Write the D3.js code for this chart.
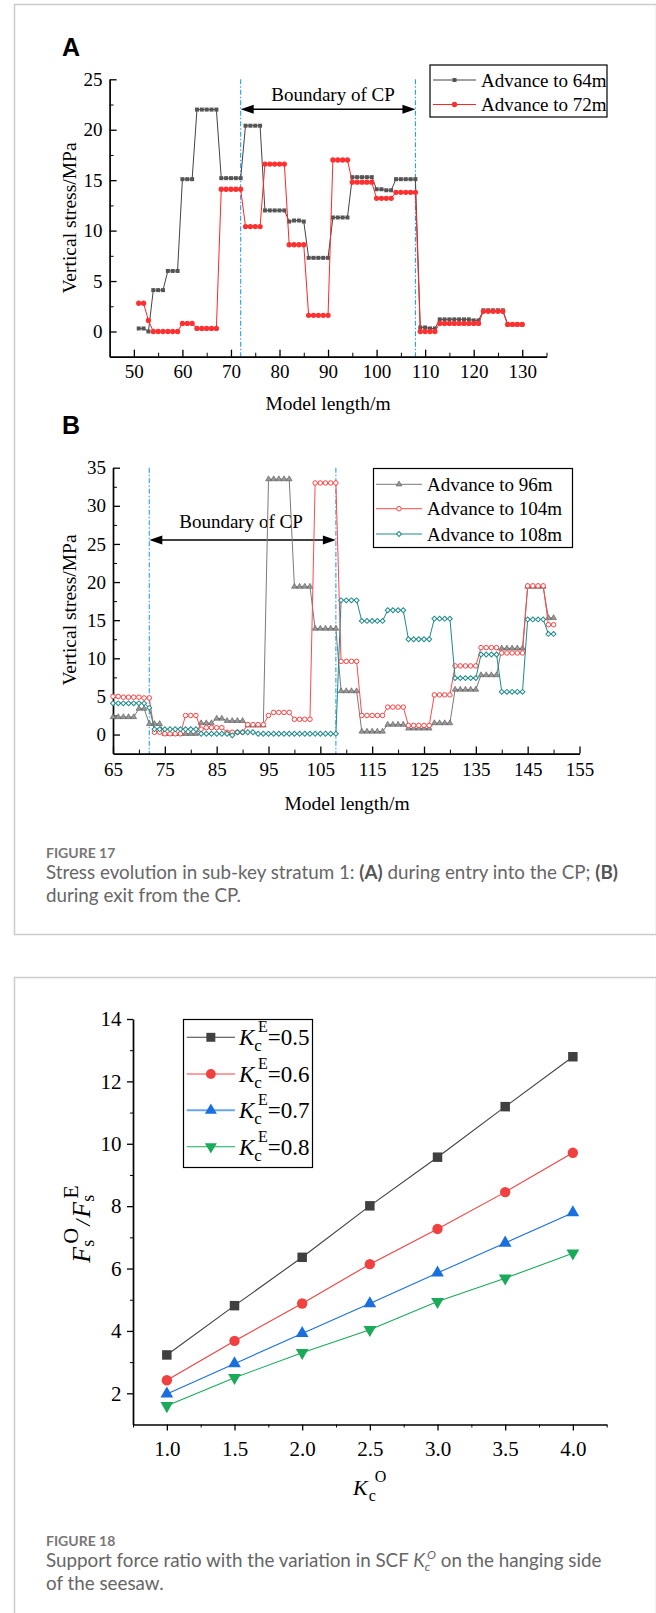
<!DOCTYPE html>
<html>
<head>
<meta charset="utf-8">
<script src="https://cdn.jsdelivr.net/npm/d3@7"></script>
<style>
  body { margin: 0; background: #fff; }
  svg { display: block; }
</style>
</head>
<body>
<svg id="fig" width="656" height="1613"></svg>
<script>
// ---- data: figure 17A (model length 51..130 m) ----
const lengthA = d3.range(51, 131);
const stress64 = [0.3, 0.3, 0.0, 4.1, 4.1, 4.1, 6.0, 6.0, 6.0, 15.1, 15.1, 15.1,
  22.0, 22.0, 22.0, 22.0, 22.0, 15.2, 15.2, 15.2, 15.2, 15.2, 20.4, 20.4, 20.4, 20.4,
  12.0, 12.0, 12.0, 12.0, 12.0, 10.9, 11.0, 11.0, 10.9, 7.3, 7.3, 7.3, 7.3, 7.3,
  11.3, 11.3, 11.3, 11.3, 15.3, 15.3, 15.3, 15.3, 15.3, 14.1, 14.1, 14.0, 14.0,
  15.1, 15.1, 15.1, 15.1, 15.1, 0.4, 0.4, 0.3, 0.3, 1.2, 1.2, 1.2, 1.2, 1.2, 1.2, 1.2,
  1.1, 1.1, 2.1, 2.1, 2.1, 2.1, 2.1, 0.7, 0.7, 0.7, 0.7];
const stress72 = [2.8, 2.8, 1.1, 0.0, 0.0, 0.0, 0.0, 0.0, 0.0, 0.8, 0.8, 0.8,
  0.3, 0.3, 0.3, 0.3, 0.3, 14.1, 14.1, 14.1, 14.1, 14.1, 10.4, 10.4, 10.4, 10.4,
  16.6, 16.6, 16.6, 16.6, 16.6, 8.6, 8.6, 8.6, 8.6, 1.6, 1.6, 1.6, 1.6, 1.6,
  17.0, 17.0, 17.0, 17.0, 14.8, 14.8, 14.8, 14.8, 14.8, 13.2, 13.2, 13.2, 13.2,
  13.8, 13.8, 13.8, 13.8, 13.8, 0.0, 0.0, 0.0, 0.0, 0.8, 0.8, 0.8, 0.8, 0.8, 0.8, 0.8,
  0.8, 0.8, 2.0, 2.0, 2.0, 2.0, 2.0, 0.7, 0.7, 0.7, 0.7];

// ---- data: figure 17B (model length 65..150 m) ----
const lengthB = d3.range(65, 151);
const stress96 = [2.3, 2.3, 2.3, 2.3, 2.3, 3.4, 3.4, 1.4, 1.4, 1.4,
  0.1, 0.1, 0.1, 0.1, 0.1, 0.1, 0.1, 1.5, 1.5, 1.5, 2.1, 2.1, 1.8, 1.8, 1.8, 1.8,
  1.2, 1.2, 1.2, 1.2, 33.5, 33.5, 33.5, 33.5, 33.5, 19.4, 19.4, 19.4, 19.4,
  13.9, 13.9, 13.9, 13.9, 13.9, 5.7, 5.7, 5.7, 5.7, 0.4, 0.4, 0.4, 0.4, 0.4,
  1.3, 1.3, 1.3, 1.3, 0.8, 0.8, 0.8, 0.8, 0.8, 1.5, 1.5, 1.5, 1.5,
  5.9, 5.9, 5.9, 5.9, 5.9, 7.8, 7.8, 7.8, 7.8, 11.3, 11.3, 11.3, 11.3, 11.3,
  19.4, 19.4, 19.4, 19.4, 15.3, 15.3];
const stress104 = [5.0, 5.0, 4.9, 4.9, 4.9, 4.9, 4.8, 4.8, 0.3, 0.3,
  0.1, 0.1, 0.1, 0.1, 2.5, 2.5, 2.5, 0.7, 0.9, 0.9, 0.9, 0.9, 0.3, 0.3, 0.3, 0.3,
  1.3, 1.3, 1.3, 1.3, 2.5, 2.9, 2.9, 2.9, 2.9, 2.0, 2.0, 2.0, 2.0,
  33.0, 33.0, 33.0, 33.0, 33.0, 9.6, 9.6, 9.6, 9.6, 2.5, 2.5, 2.5, 2.5, 2.5,
  3.6, 3.6, 3.6, 3.6, 1.2, 1.2, 1.2, 1.2, 1.2, 5.2, 5.2, 5.2, 5.2,
  9.0, 9.0, 9.0, 9.0, 9.0, 11.4, 11.4, 11.4, 11.4, 10.7, 10.7, 10.7, 10.7, 10.7,
  19.5, 19.5, 19.5, 19.5, 14.4, 14.4];
const stress108 = [4.1, 4.1, 4.1, 4.1, 4.1, 4.1, 4.1, 3.5,
  0.7, 0.7, 0.7, 0.7, 0.7, 0.7, 0.7, 0.7, 0.7, 0.1, 0.1, 0.1, 0.1, 0.1, 0.1, -0.1,
  0.3, 0.3, 0.3, 0.3, 0.1, 0.1, 0.1, 0.1, 0.1, 0.1, 0.1, 0.1, 0.1, 0.1, 0.1, 0.1,
  0.1, 0.1, 0.1, 0.1, 17.6, 17.6, 17.6, 17.6, 14.9, 14.9, 14.9, 14.9, 14.9,
  16.3, 16.3, 16.3, 16.3, 12.5, 12.5, 12.5, 12.5, 12.5, 15.2, 15.2, 15.2, 15.2,
  7.4, 7.4, 7.4, 7.4, 7.4, 10.5, 10.5, 10.5, 10.5, 5.6, 5.6, 5.6, 5.6, 5.6,
  15.1, 15.1, 15.1, 15.1, 13.2, 13.2];

// ---- data: figure 18 ----
const kcO = [1.0, 1.5, 2.0, 2.5, 3.0, 3.5, 4.0];
const ratio05 = [3.23, 4.81, 6.36, 8.01, 9.57, 11.19, 12.79];
const ratio06 = [2.42, 3.68, 4.88, 6.14, 7.27, 8.45, 9.71];
const ratio07 = [1.98, 2.95, 3.92, 4.88, 5.86, 6.82, 7.79];
const ratio08 = [1.60, 2.50, 3.30, 4.04, 4.94, 5.69, 6.49];

const SERIF = "'Liberation Serif', 'Times New Roman', serif";
const SANS = "Lato, 'Open Sans', sans-serif";
const CP_START = 72, CP_END = 108;

const svg = d3.select("#fig");

// panel frames
svg.append("rect").attr("x", 14.5).attr("y", 4.5).attr("width", 642).attr("height", 930)
  .attr("fill", "none").attr("stroke", "#cccccc").attr("stroke-width", 1.5);
svg.append("rect").attr("x", 14.5).attr("y", 977.5).attr("width", 642).attr("height", 660)
  .attr("fill", "none").attr("stroke", "#cccccc").attr("stroke-width", 1.5);

// Origin-style axes: major + minor ticks, "in" or "out"
function drawAxes(x, y, o) {
  const inward = o.dir === "in";
  const maj = inward ? -7 : 6, min = inward ? -4 : 3;
  const y0 = y.range()[0], x0 = x.range()[0];

  const gx = svg.append("g").attr("transform", `translate(0,${y0})`)
    .call(d3.axisBottom(x).tickValues(o.xMajor).tickFormat(o.xFmt)
      .tickSizeInner(maj).tickSizeOuter(0).tickPadding(o.xPad));
  svg.append("g").attr("transform", `translate(0,${y0})`)
    .call(d3.axisBottom(x).tickValues(o.xMinor).tickFormat("")
      .tickSizeInner(min).tickSizeOuter(0))
    .call(g => g.select(".domain").remove());

  const gy = svg.append("g").attr("transform", `translate(${x0},0)`)
    .call(d3.axisLeft(y).tickValues(o.yMajor).tickFormat(o.yFmt)
      .tickSizeInner(maj).tickSizeOuter(0).tickPadding(o.yPad));
  svg.append("g").attr("transform", `translate(${x0},0)`)
    .call(d3.axisLeft(y).tickValues(o.yMinor).tickFormat("")
      .tickSizeInner(min).tickSizeOuter(0))
    .call(g => g.select(".domain").remove());

  for (const g of [gx, gy]) {
    g.attr("font-family", null).attr("font-size", null);
    g.select(".domain").attr("stroke", "#000").attr("stroke-width", 1.7);
    g.selectAll(".tick line").attr("stroke", "#000").attr("stroke-width", 1.3);
    g.selectAll(".tick text")
      .style("font-family", SERIF)
      .style("font-size", o.fontSize + "px")
      .attr("fill", "#000");
  }
}

function drawSeries(x, y, xs, ys, s) {
  const pts = xs.map((d, i) => [d, ys[i]]);
  svg.append("path").datum(pts)
    .attr("fill", "none").attr("stroke", s.color).attr("stroke-width", s.width || 1)
    .attr("d", d3.line().x(d => x(d[0])).y(d => y(d[1])));
  svg.append("g").selectAll("path").data(pts).join("path")
    .attr("transform", d => `translate(${x(d[0])},${y(d[1])})${s.rotate ? " rotate(" + s.rotate + ")" : ""}`)
    .attr("d", d3.symbol(s.symbol, s.size))
    .attr("fill", s.fill).attr("stroke", s.stroke || "none").attr("stroke-width", s.sw || 1);
}

function legendItem(x1, x2, yy, s, label, fontSize) {
  svg.append("line").attr("x1", x1).attr("x2", x2).attr("y1", yy).attr("y2", yy)
    .attr("stroke", s.color).attr("stroke-width", s.width || 1);
  svg.append("path").attr("transform", `translate(${(x1 + x2) / 2},${yy})${s.rotate ? " rotate(" + s.rotate + ")" : ""}`)
    .attr("d", d3.symbol(s.symbol, s.legendSize || s.size))
    .attr("fill", s.fill).attr("stroke", s.stroke || "none").attr("stroke-width", s.sw || 1);
  if (label) {
    svg.append("text").attr("x", x2 + 5).attr("y", yy).attr("dy", "0.35em")
      .attr("font-family", SERIF).attr("font-size", fontSize).text(label);
  }
}

function cpMarkers(x, y, top, arrowY, textY, textX) {
  for (const v of [CP_START, CP_END]) {
    svg.append("line").attr("x1", x(v)).attr("x2", x(v))
      .attr("y1", y(top)).attr("y2", y.range()[0])
      .attr("stroke", "#2a9df4").attr("stroke-width", 1.1)
      .attr("stroke-dasharray", "5,2,1.5,2");
  }
  const a = x(CP_START), b = x(CP_END);
  svg.append("line").attr("x1", a + 8).attr("x2", b - 8).attr("y1", arrowY).attr("y2", arrowY)
    .attr("stroke", "#000").attr("stroke-width", 1.5);
  svg.append("path").attr("d", `M${a},${arrowY}L${a + 13},${arrowY - 4.5}L${a + 13},${arrowY + 4.5}Z`);
  svg.append("path").attr("d", `M${b},${arrowY}L${b - 13},${arrowY - 4.5}L${b - 13},${arrowY + 4.5}Z`);
  svg.append("text").attr("x", textX).attr("y", textY).attr("text-anchor", "middle")
    .attr("font-family", SERIF).attr("font-size", 19).text("Boundary of CP");
}

function panelLetter(txt, x, y) {
  svg.append("text").attr("x", x).attr("y", y)
    .attr("font-family", "'Liberation Sans', Arial, sans-serif").attr("font-weight", "bold")
    .attr("font-size", 25).text(txt);
}

function axisTitle(txt, x, y, rotate, size) {
  svg.append("text").attr("transform", `translate(${x},${y})${rotate ? " rotate(-90)" : ""}`)
    .attr("text-anchor", "middle").attr("font-family", SERIF).attr("font-size", size).text(txt);
}

// ================= Figure 17A =================
panelLetter("A", 62, 56);
const xScaleA = d3.scaleLinear([45, 135], [109.6, 546.5]);
const yScaleA = d3.scaleLinear([-2.5, 25], [356.7, 79.3]);
cpMarkers(xScaleA, yScaleA, 25, 109.3, 101, 333);
drawAxes(xScaleA, yScaleA, {
  dir: "in", fontSize: 19, xPad: 8, yPad: 7,
  xMajor: d3.range(50, 131, 10), xMinor: d3.range(55, 136, 10),
  yMajor: d3.range(0, 26, 5), yMinor: d3.range(2.5, 23, 5),
  xFmt: d3.format("d"), yFmt: d3.format("d")
});
const s64 = { color: "#444444", symbol: d3.symbolSquare, size: 16, fill: "#555555" };
const s72 = { color: "#ff2626", symbol: d3.symbolCircle, size: 22, fill: "#ff3030" };
drawSeries(xScaleA, yScaleA, lengthA, stress64, s64);
drawSeries(xScaleA, yScaleA, lengthA, stress72, s72);
axisTitle("Vertical stress/MPa", 76, 218, true, 19.5);
axisTitle("Model length/m", 328, 410, false, 19.5);
svg.append("rect").attr("x", 430).attr("y", 65).attr("width", 177).attr("height", 52)
  .attr("fill", "#fff").attr("stroke", "#000").attr("stroke-width", 1.2);
legendItem(433, 476, 80, s64, "Advance to 64m", 19);
legendItem(433, 476, 104.5, s72, "Advance to 72m", 19);

// ================= Figure 17B =================
panelLetter("B", 62, 434);
const xScaleB = d3.scaleLinear([65, 155], [113, 579.5]);
const yScaleB = d3.scaleLinear([-2.5, 35], [753.6, 467.7]);
cpMarkers(xScaleB, yScaleB, 35, 540, 528, 241);
drawAxes(xScaleB, yScaleB, {
  dir: "in", fontSize: 19, xPad: 9, yPad: 7,
  xMajor: d3.range(65, 156, 10), xMinor: d3.range(70, 151, 10),
  yMajor: d3.range(0, 36, 5), yMinor: d3.range(2.5, 33, 5),
  xFmt: d3.format("d"), yFmt: d3.format("d")
});
const s96 = { color: "#7a7a7a", symbol: d3.symbolTriangle, size: 14, fill: "#9a9a9a", stroke: "#555", sw: 0.6 };
const s104 = { color: "#ff4a4a", symbol: d3.symbolCircle, size: 16, fill: "#fff", stroke: "#ff4040", sw: 1 };
const s108 = { color: "#1e8a8a", symbol: d3.symbolSquare, size: 12, fill: "#fff", stroke: "#1e8a8a", sw: 1, rotate: 45 };
drawSeries(xScaleB, yScaleB, lengthB, stress96, s96);
drawSeries(xScaleB, yScaleB, lengthB, stress104, s104);
drawSeries(xScaleB, yScaleB, lengthB, stress108, s108);
axisTitle("Vertical stress/MPa", 76, 610, true, 19.5);
axisTitle("Model length/m", 347, 810, false, 19.5);
svg.append("rect").attr("x", 373.5).attr("y", 468.5).attr("width", 199).attr("height", 79)
  .attr("fill", "#fff").attr("stroke", "#000").attr("stroke-width", 1.2);
legendItem(376, 422, 484.3, s96, "Advance to 96m", 19);
legendItem(376, 422, 508.7, s104, "Advance to 104m", 19);
legendItem(376, 422, 534, s108, "Advance to 108m", 19);

// caption 17
svg.append("text").attr("x", 46).attr("y", 857.5).attr("font-family", SANS)
  .attr("font-weight", "bold").attr("font-size", 14).attr("fill", "#777").text("FIGURE 17");
const cap1 = svg.append("text").attr("x", 46).attr("y", 878.5).attr("font-family", SANS)
  .attr("font-size", 18.8).attr("fill", "#666");
cap1.append("tspan").text("Stress evolution in sub-key stratum 1: ");
cap1.append("tspan").attr("font-weight", "bold").attr("fill", "#555").text("(A)");
cap1.append("tspan").text(" during entry into the CP; ");
cap1.append("tspan").attr("font-weight", "bold").attr("fill", "#555").text("(B)");
svg.append("text").attr("x", 46).attr("y", 902).attr("font-family", SANS)
  .attr("font-size", 18.8).attr("fill", "#666").text("during exit from the CP.");

// ================= Figure 18 =================
const x18 = d3.scaleLinear([0.75, 4.25], [133, 606.7]);
const y18 = d3.scaleLinear([1, 14], [1424.5, 1019]);
drawAxes(x18, y18, {
  dir: "out", fontSize: 21, xPad: 11, yPad: 5.5,
  xMajor: d3.range(1, 4.01, 0.5), xMinor: d3.range(0.75, 4.3, 0.5),
  yMajor: d3.range(2, 15, 2), yMinor: d3.range(3, 14, 2),
  xFmt: d3.format(".1f"), yFmt: d3.format("d")
});
const r05 = { color: "#404040", width: 1.1, symbol: d3.symbolSquare, size: 90, legendSize: 80, fill: "#404040" };
const r06 = { color: "#f14040", width: 1.1, symbol: d3.symbolCircle, size: 85, legendSize: 75, fill: "#f14040" };
const r07 = { color: "#1a6fdf", width: 1.1, symbol: d3.symbolTriangle, size: 70, legendSize: 62, fill: "#1a6fdf" };
const r08 = { color: "#1aaa5a", width: 1.1, symbol: d3.symbolTriangle, size: 70, legendSize: 62, fill: "#1aaa5a", rotate: 180 };
drawSeries(x18, y18, kcO, ratio05, r05);
drawSeries(x18, y18, kcO, ratio06, r06);
drawSeries(x18, y18, kcO, ratio07, r07);
drawSeries(x18, y18, kcO, ratio08, r08);

// legend with K_c^E labels
svg.append("rect").attr("x", 183.5).attr("y", 1019.5).attr("width", 129).attr("height", 148)
  .attr("fill", "#fff").attr("stroke", "#000").attr("stroke-width", 1.2);
const kcE = ["0.5", "0.6", "0.7", "0.8"];
const legendRows = [1037.3, 1074, 1110.3, 1146.7];
[r05, r06, r07, r08].forEach((s, i) => {
  legendItem(186.7, 235, legendRows[i], s.color === "#1a6fdf" ? { ...s, color: "#6aa6ef", width: 2 } : s, null);
  const t = svg.append("text").attr("x", 239).attr("y", legendRows[i] + 8)
    .attr("font-family", SERIF).attr("font-size", 23);
  t.append("tspan").attr("font-style", "italic").text("K");
  t.append("tspan").attr("font-size", 17).attr("dx", 0).attr("dy", 6).text("c");
  t.append("tspan").attr("font-size", 16).attr("dx", -4).attr("dy", -19).text("E");
  t.append("tspan").attr("dy", 13).text("=" + kcE[i]);
});

// axis titles
const xt = svg.append("text").attr("x", 353).attr("y", 1495).attr("font-family", SERIF).attr("font-size", 22);
xt.append("tspan").attr("font-style", "italic").text("K");
xt.append("tspan").attr("font-size", 16).attr("dx", 1).attr("dy", 6).text("c");
xt.append("tspan").attr("font-size", 16).attr("dx", -1).attr("dy", -19).text("O");

const yt = svg.append("text").attr("transform", "translate(90,1224) rotate(-90)")
  .attr("text-anchor", "middle").attr("font-family", SERIF).attr("font-size", 26);
yt.append("tspan").attr("font-style", "italic").text("F");
yt.append("tspan").attr("font-size", 18).attr("dy", 4).text("s");
yt.append("tspan").attr("font-size", 22).attr("dx", -4).attr("dy", -16).text("O");
yt.append("tspan").attr("font-style", "italic").attr("font-size", 22).attr("dx", 2).attr("dy", 12).text("/");
yt.append("tspan").attr("font-style", "italic").attr("dx", 2).text("F");
yt.append("tspan").attr("font-size", 18).attr("dy", 4).text("s");
yt.append("tspan").attr("font-size", 22).attr("dx", -4).attr("dy", -16).text("E");

// caption 18
svg.append("text").attr("x", 46).attr("y", 1546).attr("font-family", SANS)
  .attr("font-weight", "bold").attr("font-size", 14).attr("fill", "#777").text("FIGURE 18");
const cap2 = svg.append("text").attr("x", 46).attr("y", 1567).attr("font-family", SANS)
  .attr("font-size", 18.8).attr("fill", "#666");
cap2.append("tspan").text("Support force ratio with the variation in SCF ");
cap2.append("tspan").attr("font-style", "italic").text("K");
cap2.append("tspan").attr("font-style", "italic").attr("font-size", 12).attr("dy", 4).text("c");
cap2.append("tspan").attr("font-style", "italic").attr("font-size", 12).attr("dx", -3).attr("dy", -12).text("O");
cap2.append("tspan").attr("dy", 8).text(" on the hanging side");
svg.append("text").attr("x", 46).attr("y", 1590).attr("font-family", SANS)
  .attr("font-size", 18.8).attr("fill", "#666").text("of the seesaw.");
</script>
</body>
</html>
